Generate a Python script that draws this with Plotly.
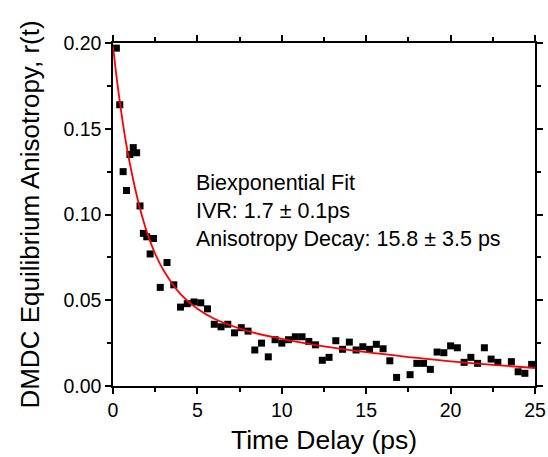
import plotly.graph_objects as go

# measured anisotropy points (ps, r(t))
delay_ps = [0.2, 0.4, 0.6, 0.8, 1.0, 1.2, 1.4, 1.6, 1.8, 2.0, 2.2, 2.4, 2.8, 3.2, 3.6,
            4.0, 4.4, 4.8, 5.2, 5.6, 6.0, 6.4, 6.8, 7.2, 7.6, 8.0, 8.4, 8.8, 9.2, 9.6,
            10.0, 10.4, 10.8, 11.2, 11.6, 12.0, 12.4, 12.8, 13.2, 13.6, 14.0, 14.4, 14.8,
            15.2, 15.6, 16.0, 16.4, 16.8, 17.6, 18.0, 18.4, 18.8, 19.2, 19.6, 20.0, 20.4,
            20.8, 21.2, 21.6, 22.0, 22.4, 22.8, 23.6, 24.0, 24.4, 24.8]
anisotropy = [0.197, 0.164, 0.125, 0.114, 0.135, 0.139, 0.136, 0.105, 0.089, 0.087, 0.077,
              0.086, 0.0575, 0.072, 0.059, 0.046, 0.048, 0.049, 0.0485, 0.045, 0.036, 0.0345,
              0.036, 0.031, 0.034, 0.032, 0.021, 0.025, 0.017, 0.027, 0.025, 0.027, 0.0287,
              0.0287, 0.026, 0.024, 0.015, 0.0167, 0.0264, 0.0214, 0.0256, 0.021, 0.0229,
              0.0214, 0.0243, 0.0217, 0.0147, 0.005, 0.0066, 0.0132, 0.0132, 0.0097, 0.0198,
              0.0194, 0.0234, 0.0223, 0.0138, 0.0167, 0.0132, 0.0223, 0.0157, 0.0138, 0.0142,
              0.0083, 0.0074, 0.0126]

# biexponential fit curve
fit_t = [0, 0.25, 0.5, 0.75, 1, 1.5, 2, 2.5, 3, 4, 5, 6, 8, 10, 12.5, 15, 17.5, 20, 22.5, 25]
fit_r = [0.198, 0.177, 0.159, 0.143, 0.1296, 0.1073, 0.090, 0.077, 0.0674, 0.0536, 0.045,
         0.0392, 0.032, 0.0275, 0.0231, 0.0197, 0.0169, 0.0144, 0.0123, 0.0105]

fit_label = "Biexponential Fit<br>IVR: 1.7 \u00b1 0.1ps<br>Anisotropy Decay: 15.8 \u00b1 3.5 ps"

font_family = "Liberation Sans, Arial, sans-serif"

fig = go.Figure()

fig.add_trace(go.Scatter(
    x=delay_ps, y=anisotropy, mode='markers',
    marker=dict(symbol='square', size=7, color='black'),
    cliponaxis=False, showlegend=False
))

fig.add_trace(go.Scatter(
    x=fit_t, y=fit_r, mode='lines',
    line=dict(color='red', width=1.8, shape='spline'),
    showlegend=False
))

fig.add_annotation(
    x=4.8, y=0.1265, xref='x', yref='y', text=fit_label,
    showarrow=False, xanchor='left', yanchor='top', align='left',
    font=dict(family=font_family, size=21.5, color='black')
)

# x-axis title placed by hand
fig.add_annotation(
    x=0.5, y=-0.158, xref='paper', yref='paper', text='Time Delay (ps)',
    showarrow=False, xanchor='center', yanchor='middle',
    font=dict(family=font_family, size=26.5, color='black')
)

axis_common = dict(
    showline=True, linecolor='black', linewidth=1.5, mirror='allticks',
    ticks='outside', ticklen=6, tickwidth=1.5, tickcolor='black',
    showgrid=False, zeroline=False, automargin=False,
    tickfont=dict(family=font_family, size=19.5, color='black'),
)

fig.update_xaxes(
    range=[0, 25], dtick=5, tick0=0,
    minor=dict(ticks='outside', ticklen=4, dtick=2.5, tickcolor='black', tickwidth=1.5),
    **axis_common
)
fig.update_yaxes(
    range=[0, 0.2], dtick=0.05, tick0=0, tickformat='.2f',
    minor=dict(ticks='outside', ticklen=4, dtick=0.025, tickcolor='black', tickwidth=1.5),
    title=dict(text='DMDC Equilibrium Anisotropy, r(t)', standoff=16,
               font=dict(family=font_family, size=26, color='black')),
    **axis_common
)

fig.update_layout(
    width=548, height=457,
    margin=dict(l=113, r=13, t=43, b=71),
    paper_bgcolor='white', plot_bgcolor='white',
)

# drop the default page margin so the figure sits at the window corner
fig.write_html("out.html", config={'displayModeBar': False},
               post_script="document.body.style.margin='0';")
